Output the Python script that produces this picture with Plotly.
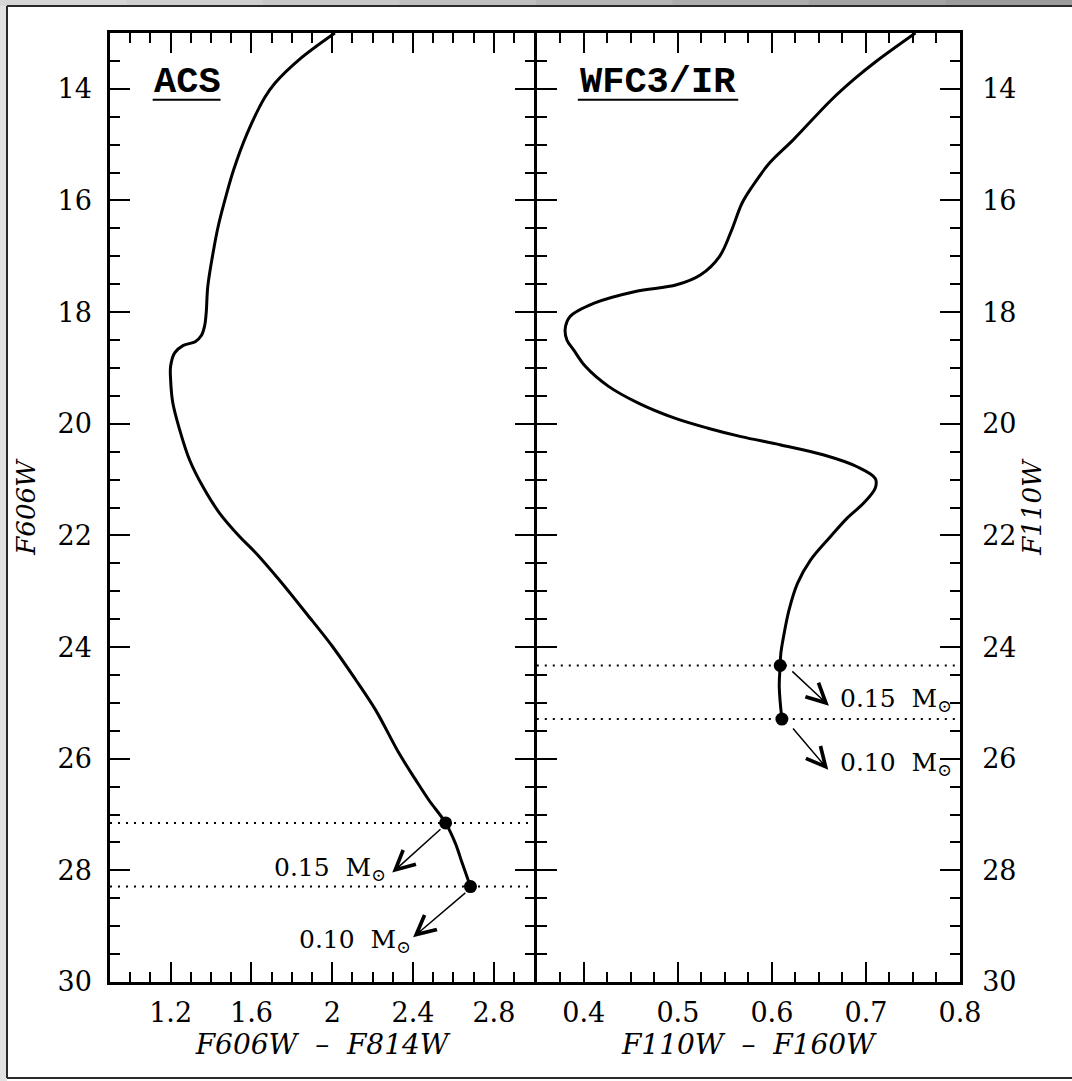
import plotly.graph_objects as go

# ---- isochrone data -------------------------------------------------------
# ACS: colour F606W-F814W vs magnitude F606W
acs_color = [2.013, 1.835, 1.716, 1.665, 1.580, 1.512, 1.478, 1.435, 1.410, 1.384,
             1.376, 1.368, 1.352, 1.322, 1.261, 1.220, 1.200, 1.200, 1.211, 1.245,
             1.294, 1.360, 1.442, 1.541, 1.623, 1.738, 1.870, 2.001, 2.117, 2.215,
             2.330, 2.413, 2.478, 2.561, 2.610, 2.643, 2.684]
acs_mag = [13.00, 13.48, 13.90, 14.16, 14.79, 15.45, 15.87, 16.47, 16.94, 17.54,
           18.02, 18.25, 18.42, 18.53, 18.60, 18.73, 18.97, 19.21, 19.63, 20.11,
           20.65, 21.13, 21.60, 22.02, 22.32, 22.80, 23.39, 23.99, 24.59, 25.13,
           25.90, 26.38, 26.74, 27.15, 27.52, 27.87, 28.29]

# WFC3/IR: colour F110W-F160W vs magnitude F110W
ir_color = [0.7526, 0.7107, 0.6887, 0.6631, 0.6229, 0.5974, 0.5791, 0.5682, 0.5572, 0.5444,
            0.5243, 0.4987, 0.4549, 0.4110, 0.3854, 0.3802, 0.3820, 0.3893, 0.4016, 0.4263,
            0.4580, 0.4967, 0.5320, 0.5672, 0.6095, 0.6553, 0.6906, 0.7099, 0.7099, 0.6976,
            0.6800, 0.6624, 0.6412, 0.6272, 0.6183, 0.6124, 0.6095, 0.6088, 0.6078, 0.6106]
ir_mag = [13.00, 13.51, 13.81, 14.20, 14.91, 15.33, 15.75, 16.05, 16.53, 17.00,
          17.33, 17.51, 17.63, 17.84, 18.08, 18.30, 18.50, 18.68, 18.97, 19.33,
          19.63, 19.90, 20.08, 20.23, 20.38, 20.56, 20.77, 20.98, 21.15, 21.42,
          21.69, 22.02, 22.44, 22.86, 23.33, 23.81, 24.11, 24.33, 24.71, 25.29]

# ---- stellar-mass markers -------------------------------------------------
mass_labels = ["0.15\u00a0\u00a0M<sub>\u2299</sub>", "0.10\u00a0\u00a0M<sub>\u2299</sub>"]
acs_mass_color = [2.561, 2.684]
acs_mass_mag = [27.15, 28.29]
ir_mass_color = [0.6088, 0.6106]
ir_mass_mag = [24.33, 25.29]

# arrows: tail (near the marker) -> head (next to the label)
acs_arrow_tail = [(2.543, 27.24), (2.666, 28.38)]
acs_arrow_head = [(2.297, 28.04), (2.400, 29.20)]
ir_arrow_tail = [(0.6201, 24.41), (0.6211, 25.43)]
ir_arrow_head = [(0.6606, 25.05), (0.6599, 26.20)]
acs_label_pos = [(2.275, 27.97), (2.398, 29.26)]
ir_label_pos = [(0.6700, 24.94), (0.6700, 26.09)]

# ---- axes settings --------------------------------------------------------
mag_range = [30, 13]
acs_color_range = [0.9, 3.0]
ir_color_range = [0.35, 0.8]
panel_names = ["ACS", "WFC3/IR"]
x_titles = ["F606W\u00a0\u00a0\u2013\u00a0\u00a0F814W", "F110W\u00a0\u00a0\u2013\u00a0\u00a0F160W"]
y_titles = ["F606W", "F110W"]

W, H = 1072, 1081
ML, MR, MT, MB = 110, 112, 33, 99
PW, PH = W - ML - MR, H - MT - MB
AXW = 2.5  # axis line width


def px_x(p):
    return (p - ML) / PW


def px_y(p):
    return 1 - (p - MT) / PH


# the two panels meet in one shared frame line
LEFT_END = px_x(534.3)
RIGHT_START = px_x(534.3 + AXW)

SERIF = "DejaVu Serif"
INK = "black"

fig = go.Figure()

# isochrones
curve_line = dict(color=INK, width=3, shape="spline", smoothing=1.0)
fig.add_trace(go.Scatter(x=acs_color, y=acs_mag, mode="lines", line=curve_line,
                         xaxis="x", yaxis="y", hoverinfo="skip"))
fig.add_trace(go.Scatter(x=ir_color, y=ir_mag, mode="lines", line=curve_line,
                         xaxis="x2", yaxis="y2", hoverinfo="skip"))
# mass points
fig.add_trace(go.Scatter(x=acs_mass_color, y=acs_mass_mag, mode="markers",
                         marker=dict(color=INK, size=13), xaxis="x", yaxis="y",
                         hoverinfo="skip"))
fig.add_trace(go.Scatter(x=ir_mass_color, y=ir_mass_mag, mode="markers",
                         marker=dict(color=INK, size=13), xaxis="x2", yaxis="y2",
                         hoverinfo="skip"))

shapes = []
# window-like frame: shaded top strip, light left strip, white page
strip_greys = ["#d6d6d6", "#cfcfcf", "#c8c8c8", "#bfbfbf", "#b6b6b6", "#adadad",
               "#a4a4a4", "#9c9c9c"]
n = len(strip_greys)
for i, g in enumerate(strip_greys):
    x0 = -10 + i * (W + 20) / n
    shapes.append(dict(type="rect", xref="paper", yref="paper", layer="below",
                       x0=px_x(x0), x1=px_x(x0 + (W + 20) / n + 1), y0=px_y(-5), y1=px_y(7),
                       fillcolor=g, line=dict(width=0)))
shapes.append(dict(type="rect", xref="paper", yref="paper", layer="below",
                   x0=px_x(-10), x1=px_x(7), y0=px_y(6), y1=px_y(H + 10),
                   fillcolor="#e2e2e2", line=dict(width=0)))
frame_line = dict(color="#2a2a2a", width=2)
for (xa, ya, xb, yb) in [(7, 6, W + 20, 6), (7, 6, 7, 1078), (7, 1078, W + 20, 1078)]:
    shapes.append(dict(type="line", xref="paper", yref="paper", layer="below",
                       x0=px_x(xa), y0=px_y(ya), x1=px_x(xb), y1=px_y(yb), line=frame_line))
# dotted magnitude levels of the mass points
dots = dict(color=INK, width=2, dash="2px,6px")
for m in acs_mass_mag:
    shapes.append(dict(type="line", xref="x domain", yref="y", x0=0, x1=1, y0=m, y1=m,
                       line=dots))
for m in ir_mass_mag:
    shapes.append(dict(type="line", xref="x2 domain", yref="y2", x0=0, x1=1, y0=m, y1=m,
                       line=dots))
# underlines of the panel names
shapes.append(dict(type="line", xref="x domain", yref="y domain", x0=0.1006, x1=0.2605,
                   y0=0.9297, y1=0.9297, line=dict(color=INK, width=2)))
shapes.append(dict(type="line", xref="x2 domain", yref="y2 domain", x0=0.097, x1=0.476,
                   y0=0.9297, y1=0.9297, line=dict(color=INK, width=2)))

annotations = []
# panel names
for xr, yr, name, x in [("x domain", "y domain", panel_names[0], 0.100),
                        ("x2 domain", "y2 domain", panel_names[1], 0.097)]:
    annotations.append(dict(xref=xr, yref=yr, x=x, y=0.9487, text="<b>%s</b>" % name,
                            showarrow=False, xanchor="left", yanchor="middle",
                            font=dict(family="Liberation Mono", size=37, color=INK)))

# arrows and mass labels
arrow_style = dict(text="", showarrow=True, arrowhead=5, arrowsize=2.5, arrowwidth=1.5,
                   arrowcolor=INK, standoff=0, startstandoff=0)
for (tx, ty), (hx, hy) in zip(acs_arrow_tail, acs_arrow_head):
    annotations.append(dict(xref="x", yref="y", axref="x", ayref="y", x=hx, y=hy,
                            ax=tx, ay=ty, **arrow_style))
for (tx, ty), (hx, hy) in zip(ir_arrow_tail, ir_arrow_head):
    annotations.append(dict(xref="x2", yref="y2", axref="x2", ayref="y2", x=hx, y=hy,
                            ax=tx, ay=ty, **arrow_style))
for (lx, ly), lab in zip(acs_label_pos, mass_labels):
    annotations.append(dict(xref="x", yref="y", x=lx, y=ly, text=lab, showarrow=False,
                            xanchor="right", yanchor="middle",
                            font=dict(family=SERIF, size=25, color=INK)))
for (lx, ly), lab in zip(ir_label_pos, mass_labels):
    annotations.append(dict(xref="x2", yref="y2", x=lx, y=ly, text=lab, showarrow=False,
                            xanchor="left", yanchor="middle",
                            font=dict(family=SERIF, size=25, color=INK)))

tickfont = dict(family=SERIF, size=27, color=INK)
common = dict(showgrid=False, zeroline=False, showline=True, linecolor=INK, linewidth=AXW,
              mirror="ticks", ticks="inside", ticklen=20, tickwidth=2, tickcolor=INK,
              tickfont=tickfont)


def minor(d):
    return dict(ticks="inside", ticklen=10, tickwidth=2, tickcolor=INK, dtick=d,
                showgrid=False)


fig.update_layout(
    width=W, height=H,
    margin=dict(l=ML, r=MR, t=MT, b=MB, pad=0),
    paper_bgcolor="white", plot_bgcolor="white",
    showlegend=False,
    shapes=shapes, annotations=annotations,
    xaxis=dict(domain=[0, LEFT_END], range=acs_color_range, anchor="y",
               tick0=1.2, dtick=0.4, minor=minor(0.1), ticklabelstandoff=5,
               title=dict(text="<i>%s</i>" % x_titles[0], standoff=6,
                          font=dict(family=SERIF, size=28, color=INK)), **common),
    xaxis2=dict(domain=[RIGHT_START, 1], range=ir_color_range, anchor="y2",
                tick0=0.4, dtick=0.1, minor=minor(0.025), ticklabelstandoff=5,
                title=dict(text="<i>%s</i>" % x_titles[1], standoff=6,
                           font=dict(family=SERIF, size=28, color=INK)), **common),
    yaxis=dict(domain=[0, 1], range=mag_range, anchor="x", side="left",
               tick0=14, dtick=2, minor=minor(0.5), ticklabelstandoff=10,
               title=dict(text="<i>%s</i>" % y_titles[0], standoff=15,
                          font=dict(family=SERIF, size=26, color=INK)), **common),
    yaxis2=dict(domain=[0, 1], range=mag_range, anchor="x2", side="right",
                tick0=14, dtick=2, minor=minor(0.5), ticklabelstandoff=14,
                title=dict(text="<i>%s</i>" % y_titles[1], standoff=8,
                           font=dict(family=SERIF, size=26, color=INK)), **common),
)

fig.write_html("out.html")
